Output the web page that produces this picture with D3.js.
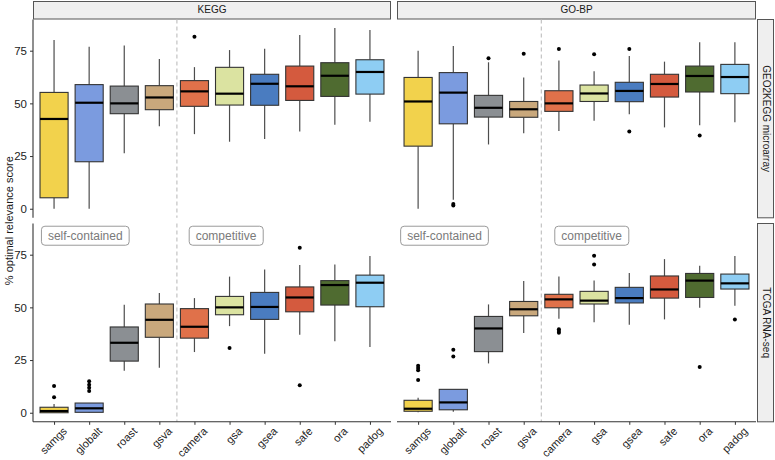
<!DOCTYPE html>
<html><head><meta charset="utf-8">
<script src="https://cdn.jsdelivr.net/npm/d3@7"></script>
<style>body{margin:0;background:#fff}svg{display:block;font-family:"Liberation Sans",Arial,sans-serif}</style>
</head><body><svg id="c" width="775" height="460"></svg>
<script>
const methods = ["samgs","globalt","roast","gsva","camera","gsa","gsea","safe","ora","padog"];
const colors = ["#F2D24C","#7B9BDF","#8B8F93","#C9A87C","#E0714A","#DBE3A1","#4A7CC0","#D45A3E","#4F6B30","#8ECDF3"];
const dbLabels = ["KEGG","GO-BP"];
const dataLabels = ["GEO2KEGG microarray","TCGA RNA-seq"];
const yTicks = [0,25,50,75];
const groupLabels = ["self-contained","competitive"];

// [lower whisker, Q1, median, Q3, upper whisker]
const keggMicroarray = [[0,5.2,42.6,55.2,80.1],[0,22.3,50.3,58.9,76.9],[26.3,45.1,50,58.2,77.5],[39.1,47,52.8,58.4,71],[35.4,48.6,55.7,60.8,67.2],[31.8,49.2,54.6,67.1,75.3],[33.1,49.1,59.3,63.8,75.9],[36.6,51.4,58.1,67.7,82.4],[39.9,53.3,63.1,69.3,85.8],[41.3,54.4,64.9,70.7,84.8]];
const goMicroarray = [[0,29.7,50.9,62.3,75],[4.3,40.3,55.1,64.6,77.2],[30.5,43.5,47.9,53.8,69.5],[35.8,43.4,47.2,50.9,62.3],[36.9,46.2,50,56,70.3],[41.8,50.9,54.7,58.7,65.3],[44.8,50.8,55.9,60,72.5],[38.6,53,59.2,63.8,69.8],[39.6,55.4,63,67.7,79],[41,54.6,62.5,68.5,79]];
const keggRnaseq = [[0,0,0.8,2.6,4.1],[0,0.2,2.1,4.6,4.6],[19.9,24.5,33.2,40.7,51.3],[21.4,35.8,44.1,51.6,56.8],[28.8,35.4,40.8,49.4,54.4],[41.1,46.5,50,55.2,64.6],[28,44.3,50.2,57.1,68],[37,47.9,54.7,59.7,70.1],[33.9,51.1,60.6,62.7,70.4],[31.2,50.3,61.7,65.3,74.4]];
const goRnaseq = [[0.2,0.7,1.9,5.9,7.1],[0.5,1.4,4.9,11.1,11.1],[23.4,29,40,45.7,51.4],[37.8,46,49.1,52.8,62.5],[44.6,49.8,53.8,56.2,64.7],[42.9,51.6,53.2,57.6,62.8],[41.8,52.1,54.4,59.5,66.3],[44.3,54.4,58.5,64.9,72.9],[49.8,54.7,62.7,66.1,69.8],[50.8,58.7,61.4,65.8,74.4]];

const keggMicroarrayOut = [[],[],[],[],[81.6],[],[],[],[],[]];
const goMicroarrayOut = [[],[2.2,1.5],[71.4],[73.6],[75.8],[73.3],[75.8,36.6],[],[34.7],[]];
const keggRnaseqOut = [[12.7,7.3],[14.9,13.3,11.9,10.3],[],[],[],[30.7],[],[78.3,13],[],[]];
const goRnaseqOut = [[22.3,21.2,20.2,15.5],[29.9,26.7],[],[],[39.6,38.8,38.0],[74.5,70.3],[],[],[21.7],[44.3]];

const panelsData = [
  {r:0,c:0,stats:keggMicroarray,out:keggMicroarrayOut},
  {r:0,c:1,stats:goMicroarray,out:goMicroarrayOut},
  {r:1,c:0,stats:keggRnaseq,out:keggRnaseqOut},
  {r:1,c:1,stats:goRnaseq,out:goRnaseqOut}
];
const labelPos = [[0.89,4.9],[0.75,4.93]]; // label centre, in category steps from the first box

const svg = d3.select("#c");
const colX = [[33,391],[397,756]];
const rowY = [[19.5,217.8],[223.5,421.8]];
const yDomain = [-4.3,89.8];

function xs(c){return d3.scalePoint().domain(methods).range(colX[c]).padding(0.6);}
function ys(r){return d3.scaleLinear().domain(yDomain).range([rowY[r][1],rowY[r][0]]);}

dbLabels.forEach((t,c)=>{
  svg.append("rect").attr("x",colX[c][0]+0.5).attr("y",1.5).attr("width",colX[c][1]-colX[c][0]-1).attr("height",17.5)
    .attr("fill","#EFEFEF").attr("stroke","#555").attr("stroke-width",1);
  svg.append("text").attr("x",(colX[c][0]+colX[c][1])/2).attr("y",10.5).attr("text-anchor","middle")
    .attr("dominant-baseline","middle").attr("font-size",10).attr("fill","#1a1a1a").text(t);
});
dataLabels.forEach((t,r)=>{
  svg.append("rect").attr("x",757.5).attr("y",rowY[r][0]).attr("width",16).attr("height",rowY[r][1]-rowY[r][0])
    .attr("fill","#EFEFEF").attr("stroke","#555").attr("stroke-width",1);
  const cy=(rowY[r][0]+rowY[r][1])/2;
  svg.append("text").attr("transform",`translate(765.5,${cy}) rotate(90)`).attr("text-anchor","middle")
    .attr("dominant-baseline","middle").attr("font-size",10).attr("fill","#1a1a1a").text(t);
});

panelsData.forEach(p=>{
  const x=xs(p.c), y=ys(p.r), bw=x.step()*0.8;
  const g=svg.append("g");
  const sx=(x("gsva")+x("camera"))/2;
  g.append("line").attr("x1",sx).attr("x2",sx).attr("y1",rowY[p.r][0]).attr("y2",rowY[p.r][1])
    .attr("stroke","#BDBDBD").attr("stroke-width",1.1).attr("stroke-dasharray","4,3");
  methods.forEach((m,i)=>{
    const s=p.stats[i], cx=x(m);
    g.append("line").attr("x1",cx).attr("x2",cx).attr("y1",y(s[0])).attr("y2",y(s[1])).attr("stroke","#4d4d4d").attr("stroke-width",1.2);
    g.append("line").attr("x1",cx).attr("x2",cx).attr("y1",y(s[3])).attr("y2",y(s[4])).attr("stroke","#4d4d4d").attr("stroke-width",1.2);
    g.append("rect").attr("x",cx-bw/2).attr("y",y(s[3])).attr("width",bw).attr("height",Math.max(0.5,y(s[1])-y(s[3])))
      .attr("fill",colors[i]).attr("stroke","#333").attr("stroke-width",1.1);
    g.append("line").attr("x1",cx-bw/2).attr("x2",cx+bw/2).attr("y1",y(s[2])).attr("y2",y(s[2])).attr("stroke","#000").attr("stroke-width",2.2);
    p.out[i].forEach(v=>{
      g.append("circle").attr("cx",cx).attr("cy",y(v)).attr("r",2).attr("fill","#000");
    });
  });
  if(p.r===1){
    groupLabels.forEach((t,k)=>{
      const pos=labelPos[p.c][k];
      const cx=x(methods[0])+pos*x.step();
      const cy=y(84);
      const txt=g.append("text").attr("x",cx).attr("y",cy).attr("text-anchor","middle").attr("dominant-baseline","central")
        .attr("font-size",12).attr("fill","#7a7a7a").text(t);
      const bb=txt.node().getBBox();
      g.insert("rect","text").attr("x",bb.x-6.5).attr("y",cy-9.5).attr("width",bb.width+13).attr("height",19)
        .attr("rx",3.5).attr("fill","#fff").attr("stroke","#9a9a9a").attr("stroke-width",1);
    });
  }
  if(p.c===0){
    const ax=svg.append("g").attr("transform",`translate(${colX[0][0]},0)`)
      .call(d3.axisLeft(y).tickValues(yTicks).tickSize(3).tickPadding(3));
    ax.select(".domain").attr("d",`M0,${rowY[p.r][0]}V${rowY[p.r][1]}`).attr("stroke","#333").attr("stroke-width",1.1);
    ax.selectAll(".tick line").attr("stroke","#333");
    ax.selectAll("text").attr("font-size",11.5).attr("fill","#222").attr("font-family","Liberation Sans, Arial, sans-serif");
  }
  if(p.r===1){
    const ax=svg.append("g").attr("transform",`translate(0,${rowY[1][1]})`)
      .call(d3.axisBottom(x).tickSize(3).tickPadding(2));
    ax.select(".domain").attr("d",`M${colX[p.c][0]},0H${colX[p.c][1]}`).attr("stroke","#333").attr("stroke-width",1.1);
    ax.selectAll(".tick line").attr("stroke","#333");
    ax.selectAll("text").attr("font-size",11).attr("fill","#222").attr("font-family","Liberation Sans, Arial, sans-serif")
      .attr("text-anchor","end").attr("transform","translate(4,1) rotate(-45)").attr("dy","0.71em");
  }
});

svg.append("text").attr("transform",`translate(9,${(rowY[0][0]+rowY[1][1])/2}) rotate(-90)`).attr("text-anchor","middle")
  .attr("dominant-baseline","central").attr("font-size",11).attr("fill","#1a1a1a").text("% optimal relevance score");
</script></body></html>
